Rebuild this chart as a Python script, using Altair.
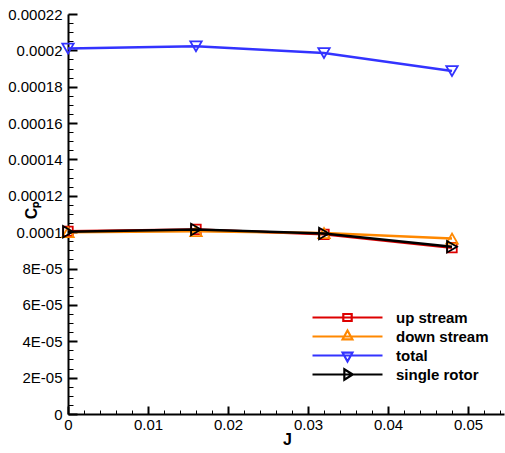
import altair as alt
import pandas as pd

# ---------------- data ----------------
J = [0.0, 0.016, 0.032, 0.048]
UP_STREAM = [1.005e-4, 1.015e-4, 0.988e-4, 0.915e-4]
DOWN_STREAM = [1.000e-4, 1.005e-4, 0.995e-4, 0.965e-4]
TOTAL = [2.010e-4, 2.022e-4, 1.985e-4, 1.886e-4]
SINGLE_ROTOR = [1.002e-4, 1.015e-4, 0.993e-4, 0.920e-4]
SERIES = ["up stream", "down stream", "total", "single rotor"]

X_TICKS = [0, 0.01, 0.02, 0.03, 0.04, 0.05]
X_TICK_LABELS = ["0", "0.01", "0.02", "0.03", "0.04", "0.05"]
X_MINOR = [round(i * 0.002, 4) for i in range(28) if i % 5 != 0]
Y_TICKS = [round(i * 2e-5, 7) for i in range(12)]
Y_TICK_LABELS = ["0", "2E-05", "4E-05", "6E-05", "8E-05", "0.0001", "0.00012",
                 "0.00014", "0.00016", "0.00018", "0.0002", "0.00022"]
Y_MINOR = [round(i * 5e-6, 8) for i in range(45) if i % 4 != 0]

X_DOMAIN = [0, 0.0545]
Y_DOMAIN = [0, 0.00022]

# ---------------- styles ----------------
COLORS = ["#dd0000", "#ff8800", "#3333ff", "#000000"]
SHAPES = ["square", "triangle-up", "triangle-down", "triangle-right"]
SIZES = [90, 130, 130, 130]
LEGEND_PATHS = [
    "M-1,0H1M-0.12,-0.1H0.12V0.1H-0.12Z",
    "M-1,0H1M0,-0.17L0.14,0.08L-0.14,0.08Z",
    "M-1,0H1M0,0.17L0.14,-0.08L-0.14,-0.08Z",
    "M-1,0H1M0.15,0L-0.09,-0.15L-0.09,0.15Z",
]
FONT = "Liberation Sans"

values = [UP_STREAM, DOWN_STREAM, TOTAL, SINGLE_ROTOR]
rows = []
for name, vals in zip(SERIES, values):
    for j, v in zip(J, vals):
        rows.append({"series": name, "J": j, "Cp": v})
df = pd.DataFrame(rows)

y_label_expr = "[" + ",".join(f"'{l}'" for l in Y_TICK_LABELS) + "][round(datum.value / 0.00002)]"
x_label_expr = "[" + ",".join(f"'{l}'" for l in X_TICK_LABELS) + "][round(datum.value / 0.01)]"


def axes(role):
    if role == "main":
        xa = alt.Axis(orient="bottom", values=X_TICKS, labelExpr=x_label_expr, ticks=False,
                      tickSize=0, labelPadding=3, labelFont=FONT, labelFontSize=15,
                      labelColor="black", labelFlush=False, labelOverlap=False,
                      domainColor="black", domainWidth=2, grid=False, title="J",
                      titleFont=FONT, titleFontSize=16, titleFontWeight="bold",
                      titleColor="black", titleX=219, titleY=17, titleBaseline="top",
                      titleAlign="center")
        ya = alt.Axis(orient="left", values=Y_TICKS, labelExpr=y_label_expr, ticks=False,
                      tickSize=0, labelPadding=6, labelFont=FONT, labelFontSize=15,
                      labelColor="black", labelFlush=False, labelOverlap=False,
                      domainColor="black", domainWidth=2, grid=False, title="Cₚ",
                      titleFont=FONT, titleFontSize=16, titleFontWeight="bold",
                      titleColor="black", titleAngle=270, titleX=-37, titleY=196,
                      titleAlign="center", titleBaseline="middle")
    elif role == "major":
        xa = alt.Axis(orient="bottom", values=X_TICKS, labels=False, domain=False, grid=False,
                      ticks=True, tickSize=8, offset=-8, tickColor="black", tickWidth=2,
                      title=None)
        ya = alt.Axis(orient="left", values=Y_TICKS, labels=False, domain=False, grid=False,
                      ticks=True, tickSize=9, offset=-9, tickColor="black", tickWidth=2,
                      title=None)
    elif role == "minor":
        xa = alt.Axis(orient="bottom", values=X_MINOR, labels=False, domain=False, grid=False,
                      ticks=True, tickSize=4, offset=-4, tickColor="black", tickWidth=1,
                      title=None)
        ya = alt.Axis(orient="left", values=Y_MINOR, labels=False, domain=False, grid=False,
                      ticks=True, tickSize=5, offset=-5, tickColor="black", tickWidth=1,
                      title=None)
    else:
        xa = None
        ya = None
    return xa, ya


def enc(base, role):
    xa, ya = axes(role)
    xs = alt.Scale(domain=X_DOMAIN, nice=False, zero=False)
    ys = alt.Scale(domain=Y_DOMAIN, nice=False, zero=False)
    if xa is None:
        return base.encode(x=alt.X("J:Q", scale=xs, axis=None),
                           y=alt.Y("Cp:Q", scale=ys, axis=None))
    return base.encode(x=alt.X("J:Q", scale=xs, axis=xa),
                       y=alt.Y("Cp:Q", scale=ys, axis=ya))


roles = ["main", "major", "minor"]
layers = []
k = 0
for name, color, shape, size in zip(SERIES, COLORS, SHAPES, SIZES):
    sub = alt.Chart(df).transform_filter(alt.datum.series == name)
    line = sub.mark_line(color=color, strokeWidth=2.5)
    pts = sub.mark_point(shape=shape, size=size, filled=False, color=color, strokeWidth=1.8,
                         opacity=1)
    for m in (line, pts):
        role = roles[k] if k < len(roles) else "none"
        layers.append(enc(m, role))
        k += 1

legend_layer = alt.Chart(df).mark_point(filled=False, opacity=0).encode(
    color=alt.Color("series:N", scale=alt.Scale(domain=SERIES, range=COLORS),
                    legend=alt.Legend(orient="none", legendX=243, legendY=294, title=None,
                                      padding=0, symbolSize=4900, symbolStrokeWidth=2.2,
                                      symbolOpacity=1, clipHeight=19, rowPadding=0,
                                      labelOffset=12, labelFont=FONT, labelFontSize=15,
                                      labelFontWeight="bold", labelColor="black",
                                      symbolFillColor="transparent")),
    shape=alt.Shape("series:N", scale=alt.Scale(domain=SERIES, range=LEGEND_PATHS)),
)
layers.append(legend_layer)

chart = alt.layer(*layers).resolve_axis(x="independent", y="independent").properties(
    width=436, height=400,
    autosize=alt.AutoSizeParams(type="none"),
    padding={"left": 68, "top": 14, "right": 1, "bottom": 39},
    background="white",
).configure_view(strokeWidth=0)

chart.save("out.html", embed_options={"renderer": "svg", "actions": False})
